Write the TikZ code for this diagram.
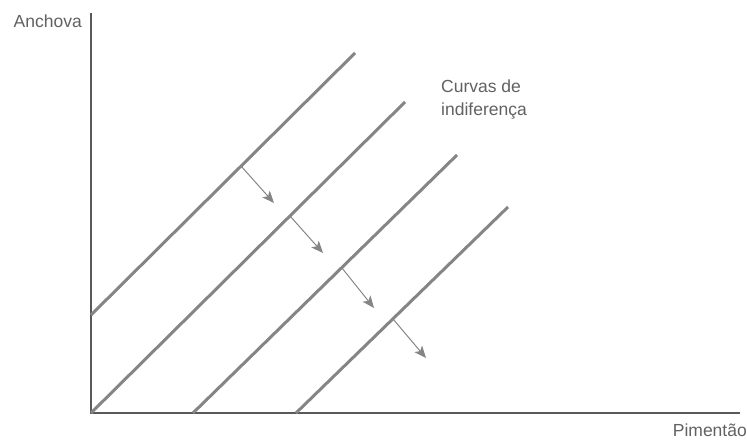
\documentclass[tikz,border=0pt]{standalone}
\usepackage{fontspec}
\setmainfont{Liberation Sans}
\usetikzlibrary{arrows.meta}
\definecolor{axisgray}{gray}{0.35}
\definecolor{curvegray}{gray}{0.52}
\definecolor{textgray}{gray}{0.38}
\begin{document}
\begin{tikzpicture}[x=1pt,y=-1pt,
    lbl/.style={textgray,inner sep=0pt,font=\fontsize{17.5}{23}\selectfont},
    curve/.style={curvegray,line width=3pt},
    shiftarrow/.style={-{Stealth[length=12pt,width=10pt,inset=3pt]},curvegray,line width=1pt}]
  \useasboundingbox (0,0) rectangle (747,446);
  \coordinate (O) at (91,413);
  \coordinate (ytop) at (91,13);
  \coordinate (xend) at (740,413);
  \draw[axisgray,line width=1.8pt] (ytop)--(O)--(xend); %eixos
  \node[lbl,anchor=east] (ylab) at (82,21) {Anchova};
  \node[lbl,anchor=north east] (xlab) at (747,424) {Pimentão};

  % curvas de indiferença
  \coordinate (c1a) at (91,315);  \coordinate (c1b) at (355,53);
  \coordinate (c2a) at (O);       \coordinate (c2b) at (405,102);
  \coordinate (c3a) at (193,413); \coordinate (c3b) at (457,155);
  \coordinate (c4a) at (296,413); \coordinate (c4b) at (508,207);
  \draw[curve] (c1a)--(c1b);
  \draw[curve] (c2a)--(c2b);
  \draw[curve] (c3a)--(c3b);
  \draw[curve] (c4a)--(c4b);
  \node[lbl,anchor=north west,align=left] (curlab) at (441,80) {Curvas de\\indiferença};

  % deslocamentos
  \coordinate (s1) at (241,166); \coordinate (e1) at (274,203);
  \coordinate (s2) at (290,216); \coordinate (e2) at (323,253);
  \coordinate (s3) at (342,268); \coordinate (e3) at (374,308);
  \coordinate (s4) at (393,319); \coordinate (e4) at (426,358);
  \draw[shiftarrow] (s1)--(e1);
  \draw[shiftarrow] (s2)--(e2);
  \draw[shiftarrow] (s3)--(e3);
  \draw[shiftarrow] (s4)--(e4);
\end{tikzpicture}
\end{document}
